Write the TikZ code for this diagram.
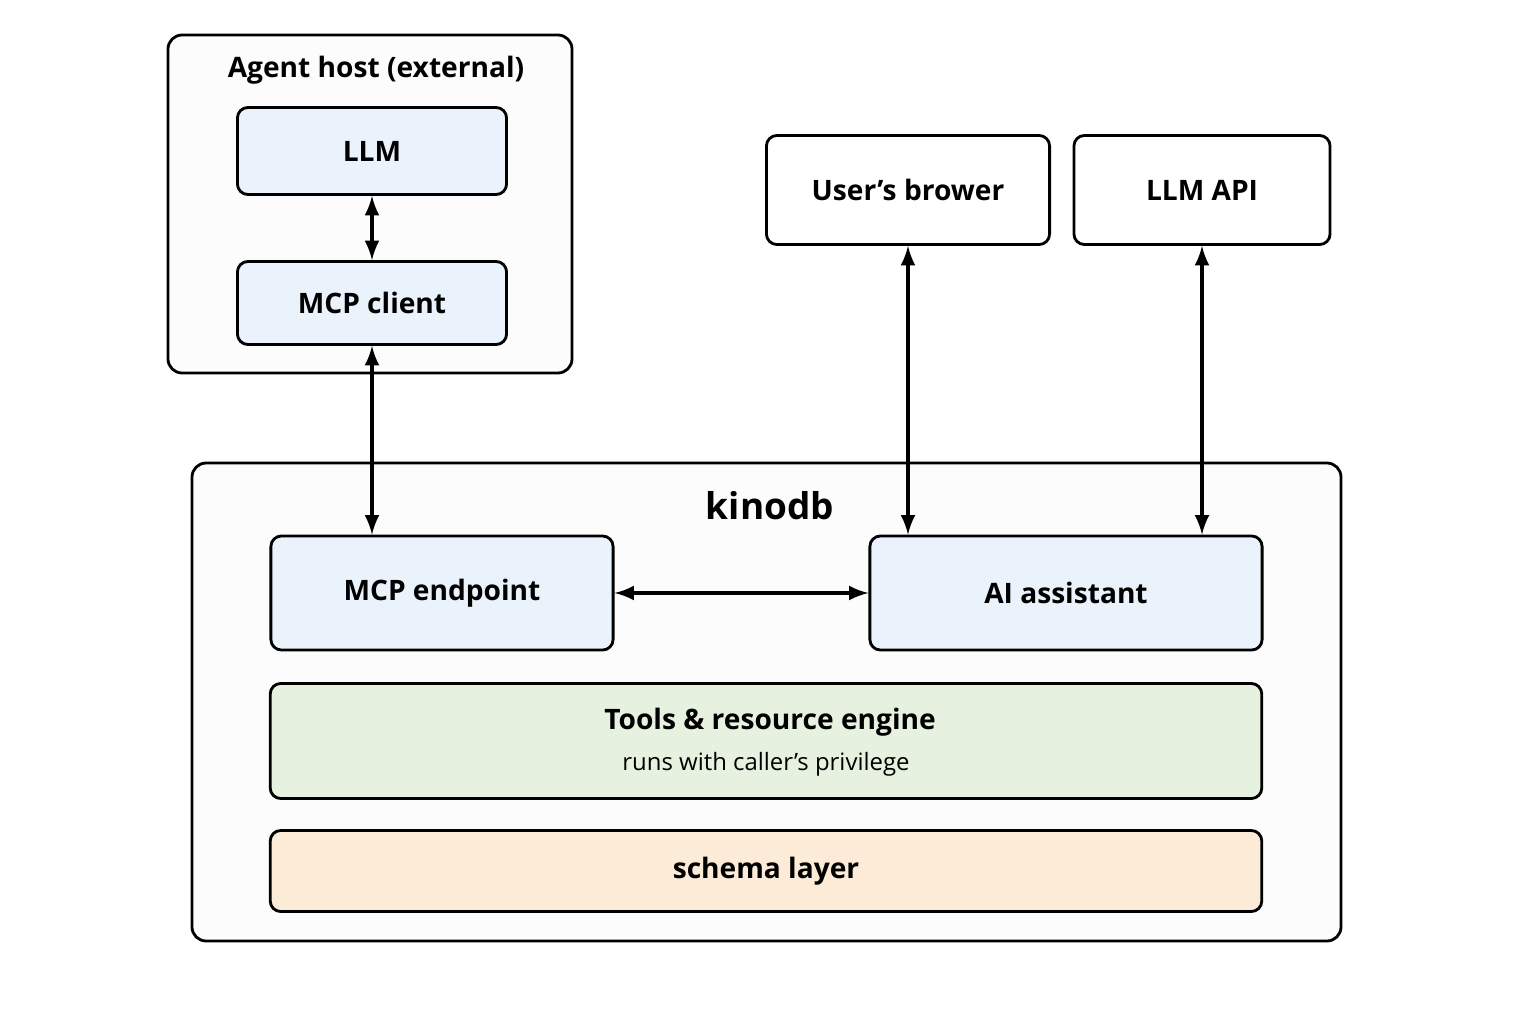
\documentclass[tikz,border=0pt]{standalone}
\usepackage{fontspec}
\setmainfont{Open Sans}[Ligatures=ResetAll]
\usetikzlibrary{calc}
\definecolor{blueFill}{HTML}{EAF2FC}
\definecolor{greenFill}{HTML}{E6F1DF}
\definecolor{sandFill}{HTML}{FBEBD7}
\definecolor{frameFill}{HTML}{FCFCFC}
\tikzset{
  box/.style={draw=black, thick, rounded corners=3pt, font=\fontsize{8}{10}\selectfont\bfseries, align=center, inner sep=0pt},
  frame/.style={draw=black, thick, rounded corners=4pt, fill=frameFill},
  link/.style={line width=0.9pt, <->, >=latex}
}
\begin{document}
\begin{tikzpicture}[x=0.01cm, y=-0.01cm]
		\useasboundingbox (0,0) rectangle (1536,1024);
		
		%outer frames
		\draw[frame] (168,35) rectangle (572,373);
		\node[font=\fontsize{8}{10}\selectfont\bfseries] (hostlbl) at (376,70) {Agent host (external)};
		\draw[frame] (192,463) rectangle (1341,941);
		\node[font=\fontsize{10.5}{13}\selectfont\bfseries] (dblbl) at (770,506) {kinodb};
		
		%agent host
		\node[box, fill=blueFill, minimum width=2.69cm, minimum height=0.87cm] (llm) at (372,151) {LLM};
		\node[box, fill=blueFill, minimum width=2.69cm, minimum height=0.83cm] (client) at (372,303) {MCP client};
		
		%external services
		\node[box, fill=white, minimum width=2.83cm, minimum height=1.09cm] (browser) at (908,190) {User's brower};
		\node[box, fill=white, minimum width=2.56cm, minimum height=1.09cm] (api) at (1202,190) {LLM API};
		
		%kinodb parts
		\node[box, fill=blueFill, minimum width=3.42cm, minimum height=1.14cm] (endpoint) at (442,593) {MCP endpoint};
		\node[box, fill=blueFill, minimum width=3.92cm, minimum height=1.14cm] (assist) at (1066,593) {AI assistant};
		\node[box, fill=greenFill, minimum width=9.91cm, minimum height=1.15cm] (engine) at (766,741) {};
		\node[font=\fontsize{8}{10}\selectfont\bfseries] (enginelbl) at (770,722) {Tools \& resource engine};
		\node[font=\fontsize{6.8}{9}\selectfont] (enginesub) at (766,764) {runs with caller's privilege};
		\node[box, fill=sandFill, minimum width=9.91cm, minimum height=0.81cm] (schema) at (766,871) {schema layer};
		
		%connectors
		\draw[link] (llm.south) -- (client.north);
		\draw[link] (client.south) -- (client.south |- endpoint.north);
		\draw[link] (browser.south) -- (browser.south |- assist.north);
		\draw[link] (api.south) -- (api.south |- assist.north);
		\draw[link] (endpoint.east) -- (assist.west);
\end{tikzpicture}
\end{document}
